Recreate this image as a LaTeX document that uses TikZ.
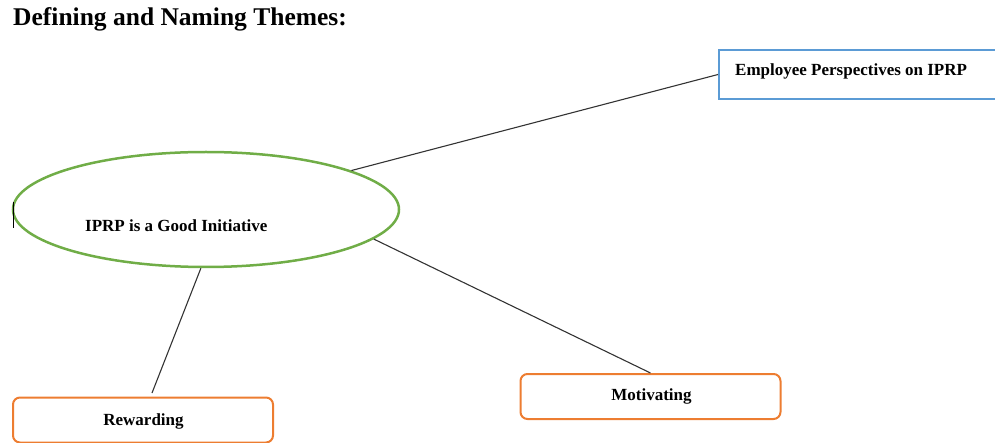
\documentclass[tikz,border=0pt]{standalone}
\usepackage{fontspec}
\setmainfont{Liberation Serif}
\usetikzlibrary{shapes.geometric}
\definecolor{tgreen}{HTML}{70AD47}
\definecolor{tblue}{HTML}{5B9BD5}
\definecolor{torange}{HTML}{ED7D31}
\begin{document}
\begin{tikzpicture}[x=1pt,y=1pt,
  lbl/.style={font=\fontsize{17}{20}\selectfont\bfseries, inner sep=0pt},
  themebox/.style={draw=torange, line width=2pt, rounded corners=7pt, minimum width=260pt, minimum height=45pt, inner sep=0pt, font=\fontsize{17}{20}\selectfont\bfseries},
  link/.style={draw=black!80, line width=1.1pt}]
\useasboundingbox (0,0) rectangle (995,-443);
\node[anchor=base west, inner sep=0pt, font=\fontsize{25.5}{30}\selectfont\bfseries] (title) at (13,-26) {Defining and Naming Themes:};
\node[draw=tgreen, line width=2.5pt, ellipse, minimum width=386pt, minimum height=115pt, inner sep=0pt] (ell) at (206,-209.5) {};
\node[lbl, anchor=base west] (elltext) at (85,-232) {IPRP is a Good Initiative};
\node[draw=tblue, line width=2pt, minimum width=290pt, minimum height=49pt, anchor=west, inner sep=0pt] (emp) at (718,-74.5) {};
\node[lbl, anchor=base west] (emptext) at (735,-76) {Employee Perspectives on IPRP};
\node[themebox] (rew) at (143,-420) {};
\node[lbl, anchor=base] (rewtext) at (143.5,-425) {Rewarding};
\node[themebox] (mot) at (650.5,-396.5) {};
\node[lbl, anchor=base] (mottext) at (651.5,-400) {Motivating};
\coordinate (rewend) at (152,-393);
\draw[link] (ell.15.6) -- (emp.west);
\draw[link] (ell.-10.5) -- (mot.north);
\draw[link] (ell.-95) -- (rewend);
\draw[black, line width=0.8pt] (13,-202) -- (13,-228);
\end{tikzpicture}
\end{document}
